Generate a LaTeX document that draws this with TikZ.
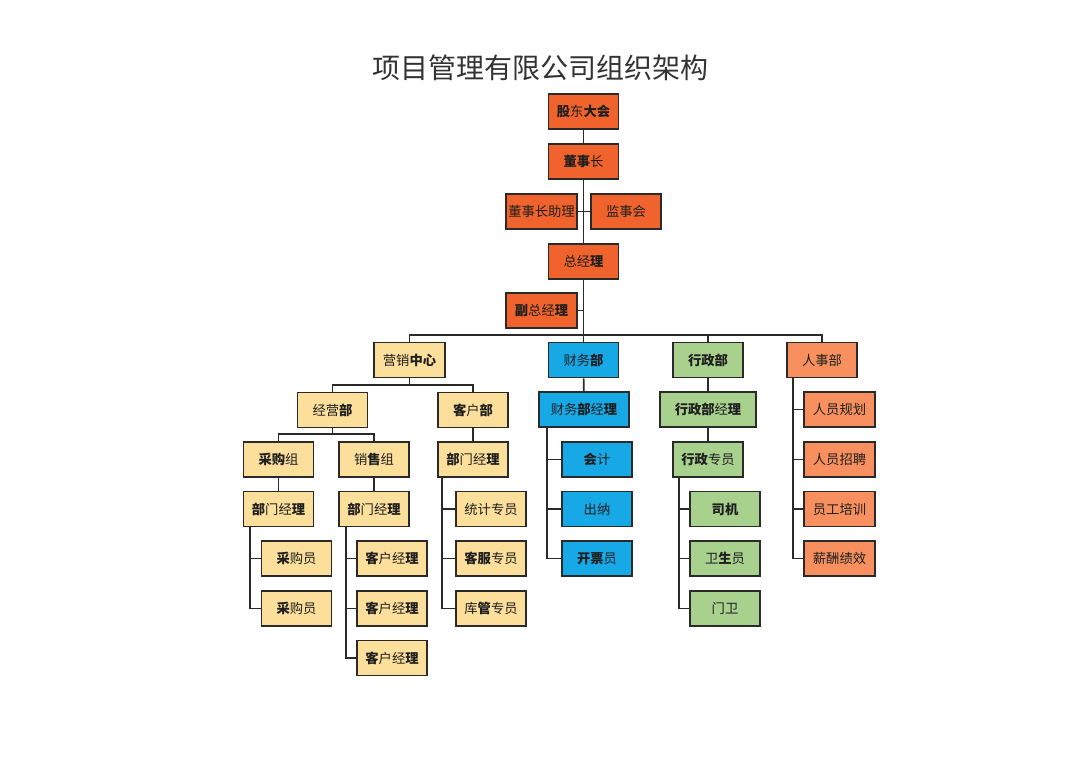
\documentclass[tikz,border=0pt]{standalone}
\usepackage{fontspec}
\newfontfamily\cjk{Noto Sans CJK SC}
\newcommand{\B}[1]{{\bfseries #1}}
\definecolor{topor}{HTML}{F0632C}
\definecolor{hror}{HTML}{F7905E}
\definecolor{yel}{HTML}{FBDF9B}
\definecolor{blu}{HTML}{17A8E6}
\definecolor{grn}{HTML}{A9D18E}
\definecolor{edge}{HTML}{2A2A2A}
\tikzset{
  box/.style={draw=edge, line width=1.6pt, minimum height=35pt, minimum width=70pt, inner sep=0pt,
    font=\cjk\fontsize{13.3}{13.3}\selectfont, text=black!88},
  btop/.style={box, fill=topor},
  bhr/.style={box, fill=hror},
  byel/.style={box, fill=yel},
  bblu/.style={box, fill=blu},
  bgrn/.style={box, fill=grn},
  link/.style={draw=edge, line width=1.6pt}
}
\begin{document}
\begin{tikzpicture}[x=1pt,y=-1pt]
\useasboundingbox[fill=white] (0,0) rectangle (1080,763);
\node[font=\cjk\fontsize{28}{28}\selectfont, text=black!80] (title) at (540,68) {项目管理有限公司组织架构};
% top chain
\node[btop] (gd) at (583.5,111.5) {\B{股}东\B{大会}};
\node[btop] (dsz) at (583.5,161.5) {\B{董事}长};
\node[btop, minimum width=71pt] (zl) at (541.5,211.5) {董事长助理};
\node[btop] (jsh) at (626,211.5) {监事会};
\node[btop] (zjl) at (583.5,261.5) {总经\B{理}};
\node[btop, minimum width=71pt] (fz) at (541.5,310.5) {\B{副}总经\B{理}};
% level 2
\node[byel, minimum width=71pt] (yx) at (409.5,360) {营销\B{中心}};
\node[bblu] (cw) at (583.5,360) {财务\B{部}};
\node[bgrn] (xz) at (708,360) {\B{行政部}};
\node[bhr] (rs) at (822,360) {人事部};
% marketing
\node[byel] (jy) at (332.5,410) {经营\B{部}};
\node[byel] (kh) at (473,410) {\B{客}户\B{部}};
\node[byel] (cg) at (278.5,459.5) {\B{采购}组};
\node[byel] (xs) at (374,459.5) {销\B{售}组};
\node[byel] (bm1) at (278.5,509) {\B{部}门经\B{理}};
\node[byel] (bm2) at (374,509) {\B{部}门经\B{理}};
\node[byel] (bm3) at (473,459.5) {\B{部}门经\B{理}};
\node[byel] (cgy1) at (296.5,558.5) {\B{采}购员};
\node[byel] (cgy2) at (296.5,608.5) {\B{采}购员};
\node[byel] (kj1) at (392,558.5) {\B{客}户经\B{理}};
\node[byel] (kj2) at (392,608.5) {\B{客}户经\B{理}};
\node[byel] (kj3) at (392,658) {\B{客}户经\B{理}};
\node[byel] (tj) at (491,509) {统计专员};
\node[byel] (kf) at (491,558.5) {\B{客服}专员};
\node[byel] (kg) at (491,608.5) {库\B{管}专员};
% finance
\node[bblu, minimum width=90pt] (cwj) at (584,409.5) {财务\B{部}经\B{理}};
\node[bblu] (kji) at (597,459.5) {\B{会}计};
\node[bblu] (cn) at (597,509) {出纳};
\node[bblu] (kp) at (597,558.5) {\B{开票}员};
% admin
\node[bgrn, minimum width=96pt] (xzj) at (708,409.5) {\B{行政部}经\B{理}};
\node[bgrn] (xzy) at (708,459.5) {\B{行政}专员};
\node[bgrn] (sj) at (725,509) {\B{司机}};
\node[bgrn] (ws) at (725,558.5) {卫\B{生}员};
\node[bgrn] (mw) at (725,608.5) {门卫};
% hr
\node[bhr, minimum width=71pt] (ry1) at (839.5,409.5) {人员规划};
\node[bhr, minimum width=71pt] (ry2) at (839.5,459.5) {人员招聘};
\node[bhr, minimum width=71pt] (ry3) at (839.5,509) {员工培训};
\node[bhr, minimum width=71pt] (ry4) at (839.5,558.5) {薪酬绩效};
% connectors top
\draw[link] (gd) -- (dsz);
\draw[link] (dsz) -- (zjl);
\draw[link] (zl) -- (jsh);
\draw[link] (zjl.south) -- (cw.north);
\draw[link] (fz.east) -- (fz.east -| zjl.south);
\coordinate (bus) at (583.5,335);
\draw[link] (yx.north) |- (bus) -| (rs.north);
\draw[link] (xz.north) -- (xz.north |- bus);
% marketing
\coordinate (m1) at (409.5,385);
\draw[link] (yx.south) -- (m1);
\draw[link] (jy.north) |- (m1) -| (kh.north);
\coordinate (m2) at (332.5,434);
\draw[link] (jy.south) -- (m2);
\draw[link] (cg.north) |- (m2) -| (xs.north);
\draw[link] (cg) -- (bm1);
\draw[link] (xs) -- (bm2);
\draw[link] (kh) -- (bm3);
\coordinate (b1) at ([xshift=7pt]bm1.south west);
\draw[link] (b1) |- (cgy2.west);
\draw[link] (cgy1.west) -- (cgy1.west -| b1);
\coordinate (b2) at ([xshift=8pt]bm2.south west);
\draw[link] (b2) |- (kj3.west);
\draw[link] (kj1.west) -- (kj1.west -| b2);
\draw[link] (kj2.west) -- (kj2.west -| b2);
\coordinate (b3) at ([xshift=5pt]bm3.south west);
\draw[link] (b3) |- (kg.west);
\draw[link] (tj.west) -- (tj.west -| b3);
\draw[link] (kf.west) -- (kf.west -| b3);
% finance
\draw[link] (cw) -- (cwj);
\coordinate (b4) at ([xshift=9pt]cwj.south west);
\draw[link] (b4) |- (kp.west);
\draw[link] (kji.west) -- (kji.west -| b4);
\draw[link] (cn.west) -- (cn.west -| b4);
% admin
\draw[link] (xz) -- (xzj);
\draw[link] (xzj) -- (xzy);
\coordinate (b5) at ([xshift=7pt]xzy.south west);
\draw[link] (b5) |- (mw.west);
\draw[link] (sj.west) -- (sj.west -| b5);
\draw[link] (ws.west) -- (ws.west -| b5);
% hr
\coordinate (b6) at ([xshift=7pt]rs.south west);
\draw[link] (b6) |- (ry4.west);
\draw[link] (ry1.west) -- (ry1.west -| b6);
\draw[link] (ry2.west) -- (ry2.west -| b6);
\draw[link] (ry3.west) -- (ry3.west -| b6);
\end{tikzpicture}
\end{document}
